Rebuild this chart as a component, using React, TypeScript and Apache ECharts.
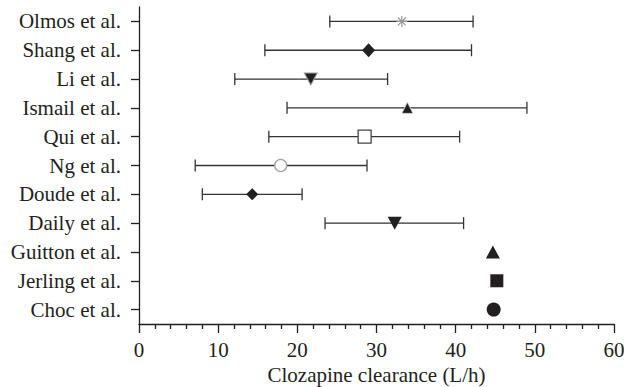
import React, { useEffect, useRef } from "react";
import * as echarts from "echarts";

const studies = [
  "Olmos et al.",
  "Shang et al.",
  "Li et al.",
  "Ismail et al.",
  "Qui et al.",
  "Ng et al.",
  "Doude et al.",
  "Daily et al.",
  "Guitton et al.",
  "Jerling et al.",
  "Choc et al.",
];
const means = [33.2, 29.0, 21.7, 33.9, 28.5, 17.9, 14.3, 32.3, 44.7, 45.2, 44.8];
const lows: (number | null)[] = [24.1, 15.9, 12.1, 18.7, 16.4, 7.1, 8.0, 23.5, null, null, null];
const highs: (number | null)[] = [42.2, 42.0, 31.4, 49.0, 40.5, 28.8, 20.6, 41.0, null, null, null];
const xTicks = [0, 10, 20, 30, 40, 50, 60];
const xAxisTitle = "Clozapine clearance (L/h)";

const asteriskPath =
  "path://M5,0 L5,10 M0,5 L10,5 M1.46,1.46 L8.54,8.54 M1.46,8.54 L8.54,1.46";

// marker appearance, one per study (same order as studies)
const markerStyles: any[] = [
  { symbol: asteriskPath, symbolSize: 11, itemStyle: { color: "none", borderColor: "#9a9a9a", borderWidth: 1.2 } },
  { symbol: "diamond", symbolSize: [13, 14], itemStyle: { color: "#231f20" } },
  { symbol: "triangle", symbolSize: [13, 12], symbolRotate: 180, itemStyle: { color: "#231f20", borderColor: "#9a9a9a", borderWidth: 1 } },
  { symbol: "triangle", symbolSize: [11, 11], itemStyle: { color: "#231f20", borderColor: "#d0d0d0", borderWidth: 0.8 } },
  { symbol: "rect", symbolSize: 13, itemStyle: { color: "#ffffff", borderColor: "#444444", borderWidth: 1.3 } },
  { symbol: "circle", symbolSize: 12, itemStyle: { color: "#ffffff", borderColor: "#a0a0a0", borderWidth: 1.3 } },
  { symbol: "diamond", symbolSize: [12, 12], itemStyle: { color: "#231f20" } },
  { symbol: "triangle", symbolSize: [14, 13], symbolRotate: 180, itemStyle: { color: "#231f20" } },
  { symbol: "triangle", symbolSize: [14, 13], itemStyle: { color: "#231f20" } },
  { symbol: "rect", symbolSize: 13, itemStyle: { color: "#231f20" } },
  { symbol: "circle", symbolSize: 14, itemStyle: { color: "#231f20" } },
];

const FONT = "Liberation Serif";
const INK = "#231f20";

export default function App() {
  const ref = useRef<HTMLDivElement>(null);
  useEffect(() => {
    if (!ref.current) return;
    const chart = echarts.init(ref.current, undefined, { renderer: "svg" });

    const errData = studies
      .map((s, i) => (lows[i] != null && highs[i] != null ? [lows[i], highs[i], i] : null))
      .filter((d) => d != null);

    const scatterData = studies.map((s, i) => ({
      value: [means[i], i],
      symbol: markerStyles[i].symbol,
      symbolSize: markerStyles[i].symbolSize,
      symbolRotate: markerStyles[i].symbolRotate || 0,
      itemStyle: { opacity: 1, ...markerStyles[i].itemStyle },
    }));

    chart.setOption({
      animation: false,
      backgroundColor: "#ffffff",
      textStyle: { fontFamily: FONT },
      grid: {
        left: 139,
        right: 10,
        top: 7,
        bottom: 63,
        containLabel: false,
        outerBoundsMode: "none",
      },
      xAxis: {
        type: "value",
        min: xTicks[0],
        max: xTicks[xTicks.length - 1],
        interval: 10,
        name: xAxisTitle,
        nameLocation: "middle",
        nameGap: 40,
        nameTextStyle: { fontFamily: FONT, fontSize: 21, color: INK },
        axisLine: { show: true, lineStyle: { color: INK, width: 1.3 } },
        axisTick: { show: true, length: 9, lineStyle: { color: INK, width: 1.3 } },
        minorTick: { show: true, splitNumber: 5, length: 5, lineStyle: { color: INK, width: 1.3 } },
        splitLine: { show: false },
        minorSplitLine: { show: false },
        axisLabel: { fontFamily: FONT, fontSize: 21, color: INK, margin: 15 },
      },
      yAxis: {
        type: "category",
        data: studies,
        inverse: true,
        boundaryGap: true,
        axisLine: { show: true, lineStyle: { color: INK, width: 1.3 } },
        axisTick: { show: true, alignWithLabel: true, length: 8, lineStyle: { color: INK, width: 1.3 } },
        splitLine: { show: false },
        axisLabel: { fontFamily: FONT, fontSize: 21, color: INK, margin: 18 },
      },
      series: [
        {
          type: "custom",
          data: errData,
          encode: { x: [0, 1], y: 2 },
          renderItem: (params: any, api: any) => {
            const cat = api.value(2);
            const p1 = api.coord([api.value(0), cat]);
            const p2 = api.coord([api.value(1), cat]);
            const h = 6;
            const style = { stroke: "#333333", lineWidth: 1.3 };
            return {
              type: "group",
              children: [
                { type: "line", shape: { x1: p1[0], y1: p1[1], x2: p2[0], y2: p2[1] }, style },
                { type: "line", shape: { x1: p1[0], y1: p1[1] - h, x2: p1[0], y2: p1[1] + h }, style },
                { type: "line", shape: { x1: p2[0], y1: p2[1] - h, x2: p2[0], y2: p2[1] + h }, style },
              ],
            };
          },
          z: 1,
        },
        {
          type: "scatter",
          data: scatterData,
          itemStyle: { opacity: 1 },
          z: 3,
        },
      ],
    });
    return () => chart.dispose();
  }, []);
  return (
    <div
      ref={ref}
      style={{ position: "fixed", left: 0, top: 0, width: 624, height: 387 }}
    />
  );
}
